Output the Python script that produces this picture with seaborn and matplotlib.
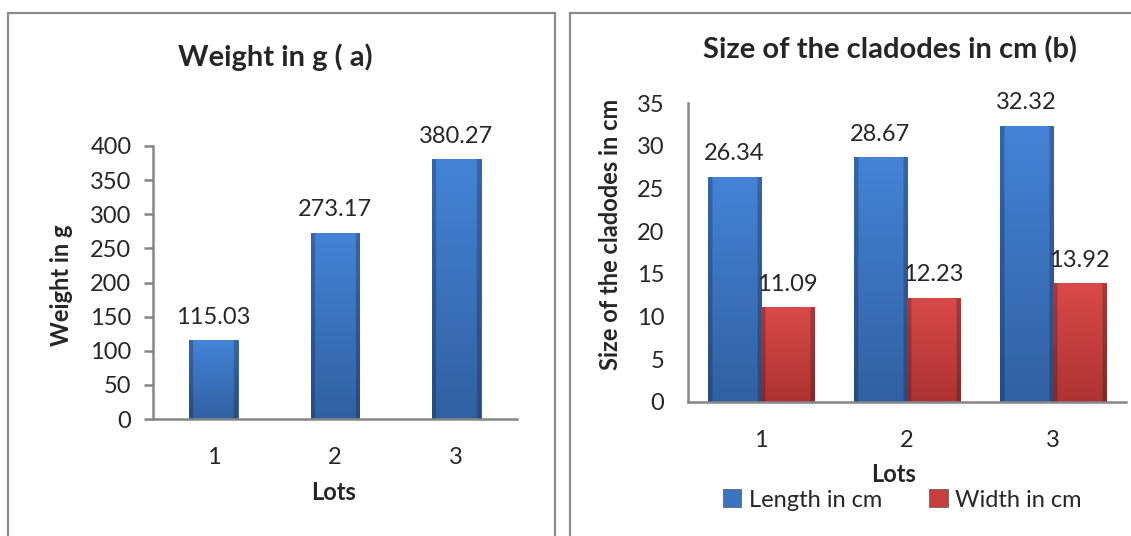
import numpy as np
import pandas as pd
import matplotlib.pyplot as plt
import seaborn as sns
from matplotlib.colors import to_rgb
from matplotlib.patches import Rectangle

sns.set_theme(style='white')
plt.rcParams['font.family'] = ['Lato', 'DejaVu Sans']

# data
lots = ['1', '2', '3']
weight_g = [115.03, 273.17, 380.27]
length_cm = [26.34, 28.67, 32.32]
width_cm = [11.09, 12.23, 13.92]

BLUE = '#3d74c0'
RED = '#c83e3e'
AXIS = '#868686'
# top / bottom shades for the bevel look of the bars
SHADES = {BLUE: ('#4483d6', '#3161a2'), RED: ('#d84a49', '#ad3333')}


def bevel(ax, color):
    """ paint a vertical gradient with darker sides inside each bar of the given color """
    top, bottom = np.array(to_rgb(SHADES[color][0])), np.array(to_rgb(SHADES[color][1]))
    t = np.linspace(0, 1, 60)[:, None, None]
    img = top * (1 - t) + bottom * t
    img = np.repeat(img, 24, axis=1)
    side = np.ones(24)
    side[:2] = 0.78
    side[-2:] = 0.78
    img = img * side[None, :, None]
    xl, yl = ax.get_xlim(), ax.get_ylim()
    for c in ax.containers:
        for p in c:
            if p.get_facecolor()[:3] != to_rgb(color) or p.get_height() == 0:
                continue
            im = ax.imshow(img, extent=[p.get_x(), p.get_x() + p.get_width(),
                                        p.get_y(), p.get_y() + p.get_height()],
                           aspect='auto', origin='upper', zorder=p.get_zorder() + 0.1)
            im.set_clip_path(p)
    ax.set_xlim(xl)
    ax.set_ylim(yl)


fig = plt.figure(figsize=(11.31, 5.36), dpi=100)

# panel frames (pixel coords -> figure fraction)
W, H = 1131, 536
for x0, x1 in [(8, 555), (570, 1140)]:
    fig.add_artist(Rectangle((x0 / W, -0.05), (x1 - x0) / W, (H - 13) / H + 0.05,
                             transform=fig.transFigure, fill=False,
                             edgecolor='#8c8c8c', lw=1.6))

# ---------- (a) weight ----------
ax1 = fig.add_axes([153 / W, (H - 419) / H, 364 / W, 273 / H])
df_w = pd.DataFrame({'lot': lots, 'weight': weight_g})
sns.barplot(data=df_w, x='lot', y='weight', color=BLUE, width=0.40, saturation=1,
            edgecolor='#2b568f', linewidth=0.6, ax=ax1)
ax1.set_ylim(0, 400)
ax1.set_yticks(range(0, 401, 50))
for c in ax1.containers:
    ax1.bar_label(c, labels=[f'{v:.2f}' for v in weight_g], padding=9, fontsize=17)
bevel(ax1, BLUE)

# ---------- (b) size ----------
ax2 = fig.add_axes([688 / W, (H - 402) / H, 438 / W, 299 / H])
df_s = pd.DataFrame({
    'lot': lots * 2,
    'size': length_cm + width_cm,
    'kind': ['Length in cm'] * 3 + ['Width in cm'] * 3,
})
sns.barplot(data=df_s, x='lot', y='size', hue='kind', palette=[BLUE, RED], saturation=1,
            width=0.73, edgecolor='#555555', linewidth=0.5, ax=ax2)
ax2.set_ylim(0, 35)
ax2.set_yticks(range(0, 36, 5))
for c, vals in zip(ax2.containers, [length_cm, width_cm]):
    ax2.bar_label(c, labels=[f'{v:.2f}' for v in vals], padding=9, fontsize=17)
bevel(ax2, BLUE)
bevel(ax2, RED)

handles, labels = ax2.get_legend_handles_labels()
ax2.get_legend().remove()
fig.legend(handles, labels, loc='center', bbox_to_anchor=(902 / W, (H - 500) / H),
           ncol=2, frameon=False, fontsize=17, handlelength=0.8, handleheight=0.8,
           handletextpad=0.3, columnspacing=2.0)

for ax in (ax1, ax2):
    sns.despine(ax=ax)
    for s in ('left', 'bottom'):
        ax.spines[s].set_color(AXIS)
        ax.spines[s].set_linewidth(1.8)
    ax.tick_params(axis='x', length=0, pad=20, labelsize=17)
    ax.set_xlabel('Lots', fontsize=17, fontweight='bold')

ax1.tick_params(axis='y', length=6.5, width=1.8, color=AXIS, pad=9, labelsize=17, left=True)
ax2.tick_params(axis='y', length=0, pad=17, labelsize=17)

ax1.set_ylabel('Weight in g', fontsize=17, fontweight='bold')
ax2.set_ylabel('Size of the cladodes in cm', fontsize=17, fontweight='bold')
ax1.yaxis.set_label_coords(-0.22, 0.49)
ax2.yaxis.set_label_coords(-0.151, 0.56)
ax1.xaxis.set_label_coords(0.497, -0.227)
ax2.xaxis.set_label_coords(0.47, -0.204)

fig.text(275 / W, (H - 57) / H, 'Weight in g ( a)', ha='center', va='center',
         fontsize=21, fontweight='bold')
fig.text(890 / W, (H - 50) / H, 'Size of the cladodes in cm (b)', ha='center', va='center',
         fontsize=21, fontweight='bold')

fig.savefig('out.png', dpi=100)
